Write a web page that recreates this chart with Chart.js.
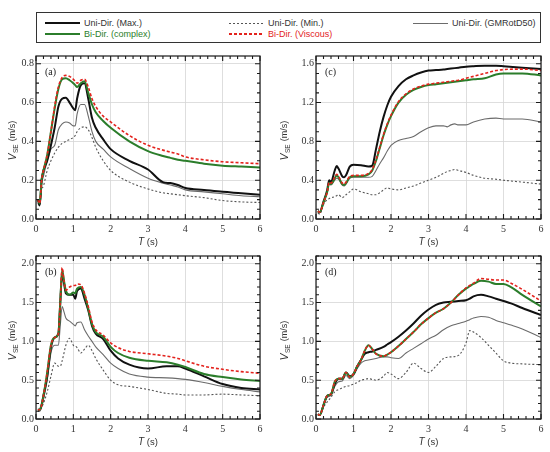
<!DOCTYPE html>
<html lang="en">
<head>
  <meta charset="UTF-8">
  <title>V_SE spectra</title>
  <script src="https://cdn.jsdelivr.net/npm/chart.js"></script>
  <style>
    html, body {
      margin: 0;
      padding: 0;
      background: #fff;
    }

    body {
      position: relative;
      width: 550px;
      height: 452px;
      overflow: hidden;
      font-family: "Liberation Sans", Arial, sans-serif;
    }

    canvas.panel {
      position: absolute;
    }

    #legend {
      position: absolute;
      left: 36px;
      top: 12px;
      width: 503px;
      height: 29px;
      border: 1px solid #333;
    }

    .item {
      position: absolute;
      font-size: 9px;
      line-height: 11px;
      white-space: nowrap;
    }

    .item .ln {
      display: inline-block;
      width: 35px;
      vertical-align: middle;
      margin-right: 4px;
      margin-top: -1px;
    }
  </style>
</head>

<body>
  <div id="legend"></div>
  <canvas class="panel" id="ca" width="275" height="200" style="left:0;top:48px"></canvas>
  <canvas class="panel" id="cc" width="275" height="200" style="left:275px;top:48px"></canvas>
  <canvas class="panel" id="cb" width="275" height="204" style="left:0;top:248px"></canvas>
  <canvas class="panel" id="cd" width="275" height="204" style="left:275px;top:248px"></canvas>
  <script>
    // series names, in drawing-style order
    const seriesNames = ['Uni-Dir. (Max.)', 'Uni-Dir. (Min.)', 'Uni-Dir. (GMRotD50)', 'Bi-Dir. (complex)', 'Bi-Dir. (Viscous)'];

    // tick labels
    const xTicks = [0, 1, 2, 3, 4, 5, 6];
    const yTicksA = [0, 0.2, 0.4, 0.6, 0.8];
    const yTicksB = [0, 0.5, 1.0, 1.5, 2.0];
    const yTicksC = [0, 0.4, 0.8, 1.2, 1.6];
    const yTicksD = [0, 0.5, 1.0, 1.5, 2.0];

    // (a) period T (s) and V_SE (m/s)
    const tA = [0.05, 0.1, 0.15, 0.2, 0.3, 0.4, 0.5, 0.6, 0.7, 0.8, 0.9, 1.0, 1.05, 1.1, 1.2, 1.3, 1.4, 1.5, 1.6, 1.8, 2.0, 2.5, 3.0, 3.4, 3.6, 3.8, 4.0, 4.5, 5.0, 5.5, 6.0];
    const maxA = [0.10, 0.07, 0.20, 0.25, 0.30, 0.38, 0.47, 0.58, 0.62, 0.625, 0.60, 0.57, 0.56, 0.62, 0.69, 0.70, 0.62, 0.52, 0.47, 0.41, 0.36, 0.30, 0.255, 0.19, 0.185, 0.175, 0.16, 0.15, 0.14, 0.133, 0.125];
    const minA = [0.08, 0.07, 0.15, 0.17, 0.25, 0.30, 0.34, 0.37, 0.39, 0.40, 0.41, 0.42, 0.43, 0.45, 0.47, 0.475, 0.46, 0.42, 0.37, 0.30, 0.25, 0.19, 0.155, 0.135, 0.13, 0.125, 0.12, 0.11, 0.095, 0.088, 0.085];
    const gmA = [0.08, 0.07, 0.18, 0.22, 0.30, 0.36, 0.38, 0.46, 0.49, 0.50, 0.495, 0.48, 0.48, 0.54, 0.59, 0.59, 0.53, 0.45, 0.40, 0.36, 0.32, 0.26, 0.21, 0.185, 0.175, 0.165, 0.15, 0.14, 0.13, 0.12, 0.115];
    const cxA = [0.10, 0.08, 0.20, 0.25, 0.33, 0.45, 0.57, 0.67, 0.72, 0.725, 0.715, 0.70, 0.69, 0.68, 0.70, 0.71, 0.65, 0.59, 0.55, 0.505, 0.47, 0.40, 0.35, 0.325, 0.315, 0.305, 0.30, 0.285, 0.275, 0.27, 0.265];
    const viA = [0.10, 0.08, 0.20, 0.25, 0.33, 0.45, 0.58, 0.68, 0.73, 0.74, 0.735, 0.72, 0.71, 0.70, 0.715, 0.72, 0.68, 0.62, 0.58, 0.53, 0.50, 0.43, 0.38, 0.355, 0.345, 0.335, 0.32, 0.305, 0.295, 0.29, 0.285];

    // (b)
    const tB = [0.05, 0.1, 0.15, 0.2, 0.3, 0.4, 0.5, 0.6, 0.65, 0.7, 0.75, 0.8, 0.9, 1.0, 1.05, 1.1, 1.2, 1.3, 1.4, 1.5, 1.6, 1.8, 2.0, 2.2, 2.5, 3.0, 3.5, 3.8, 4.0, 4.5, 5.0, 5.5, 6.0];
    const maxB = [0.12, 0.12, 0.18, 0.30, 0.55, 0.92, 1.05, 1.10, 1.50, 1.88, 1.75, 1.62, 1.60, 1.60, 1.55, 1.65, 1.68, 1.55, 1.40, 1.20, 1.10, 1.03, 0.88, 0.78, 0.70, 0.65, 0.68, 0.68, 0.65, 0.55, 0.45, 0.40, 0.38];
    const minB = [0.10, 0.10, 0.15, 0.20, 0.35, 0.55, 0.72, 0.68, 0.68, 0.75, 0.85, 0.95, 1.04, 0.95, 0.94, 0.92, 0.85, 0.90, 0.95, 0.88, 0.78, 0.63, 0.50, 0.44, 0.42, 0.38, 0.33, 0.32, 0.31, 0.31, 0.32, 0.31, 0.30];
    const gmB = [0.10, 0.10, 0.15, 0.25, 0.50, 0.85, 0.95, 0.95, 1.20, 1.45, 1.38, 1.30, 1.26, 1.22, 1.20, 1.24, 1.25, 1.15, 1.07, 1.00, 0.93, 0.83, 0.72, 0.65, 0.58, 0.54, 0.53, 0.52, 0.51, 0.47, 0.42, 0.38, 0.35];
    const cxB = [0.12, 0.12, 0.18, 0.30, 0.60, 0.95, 1.05, 1.10, 1.50, 1.92, 1.78, 1.65, 1.60, 1.63, 1.62, 1.68, 1.70, 1.60, 1.42, 1.22, 1.12, 1.06, 0.93, 0.85, 0.79, 0.75, 0.73, 0.70, 0.67, 0.58, 0.54, 0.51, 0.49];
    const viB = [0.12, 0.12, 0.18, 0.30, 0.60, 0.95, 1.05, 1.10, 1.50, 1.95, 1.78, 1.66, 1.70, 1.72, 1.72, 1.74, 1.73, 1.62, 1.45, 1.25, 1.15, 1.08, 0.98, 0.92, 0.87, 0.84, 0.81, 0.78, 0.75, 0.68, 0.64, 0.61, 0.59];

    // (c)
    const tC = [0.05, 0.1, 0.2, 0.3, 0.35, 0.4, 0.5, 0.55, 0.6, 0.7, 0.75, 0.8, 0.9, 1.0, 1.2, 1.4, 1.5, 1.6, 1.7, 1.8, 1.9, 2.0, 2.2, 2.4, 2.6, 2.8, 3.0, 3.2, 3.4, 3.5, 3.6, 3.7, 3.8, 4.0, 4.2, 4.5, 4.8, 5.0, 5.5, 6.0];
    const maxC = [0.08, 0.07, 0.18, 0.30, 0.40, 0.38, 0.50, 0.545, 0.52, 0.44, 0.43, 0.45, 0.54, 0.56, 0.555, 0.54, 0.55, 0.72, 0.90, 1.05, 1.17, 1.26, 1.37, 1.44, 1.48, 1.51, 1.53, 1.535, 1.54, 1.545, 1.55, 1.555, 1.56, 1.57, 1.575, 1.58, 1.58, 1.575, 1.56, 1.545];
    const minC = [0.06, 0.05, 0.15, 0.20, 0.21, 0.22, 0.23, 0.24, 0.25, 0.22, 0.23, 0.25, 0.28, 0.31, 0.28, 0.26, 0.25, 0.25, 0.27, 0.30, 0.32, 0.31, 0.30, 0.32, 0.34, 0.37, 0.40, 0.43, 0.47, 0.49, 0.50, 0.51, 0.50, 0.48, 0.45, 0.42, 0.41, 0.40, 0.38, 0.36];
    const gmC = [0.08, 0.07, 0.17, 0.28, 0.36, 0.35, 0.40, 0.42, 0.41, 0.35, 0.34, 0.36, 0.42, 0.43, 0.43, 0.43, 0.44, 0.50, 0.57, 0.63, 0.70, 0.76, 0.81, 0.83, 0.85, 0.90, 0.94, 0.96, 0.96, 0.95, 0.97, 0.98, 0.97, 0.97, 1.00, 1.03, 1.04, 1.03, 1.03, 1.00];
    const cxC = [0.08, 0.07, 0.17, 0.28, 0.37, 0.36, 0.42, 0.45, 0.43, 0.36, 0.35, 0.37, 0.43, 0.44, 0.44, 0.46, 0.50, 0.60, 0.73, 0.86, 0.97, 1.06, 1.20, 1.28, 1.33, 1.36, 1.38, 1.39, 1.40, 1.405, 1.41, 1.415, 1.42, 1.43, 1.44, 1.45, 1.49, 1.50, 1.50, 1.48];
    const viC = [0.08, 0.07, 0.17, 0.28, 0.38, 0.37, 0.43, 0.46, 0.44, 0.37, 0.36, 0.38, 0.44, 0.45, 0.45, 0.47, 0.51, 0.61, 0.74, 0.87, 0.98, 1.07, 1.21, 1.29, 1.34, 1.37, 1.39, 1.40, 1.41, 1.415, 1.42, 1.425, 1.43, 1.45, 1.47, 1.50, 1.53, 1.54, 1.545, 1.53];

    // (d)
    const tD = [0.05, 0.1, 0.2, 0.3, 0.4, 0.5, 0.6, 0.7, 0.8, 0.9, 1.0, 1.1, 1.2, 1.3, 1.4, 1.5, 1.6, 1.8, 1.9, 2.0, 2.2, 2.4, 2.6, 2.8, 3.0, 3.2, 3.4, 3.6, 3.8, 4.0, 4.1, 4.2, 4.4, 4.6, 4.8, 5.0, 5.2, 5.5, 6.0];
    const maxD = [0.06, 0.05, 0.18, 0.30, 0.32, 0.45, 0.52, 0.52, 0.60, 0.55, 0.58, 0.68, 0.76, 0.84, 0.86, 0.87, 0.89, 0.93, 0.96, 0.99, 1.06, 1.14, 1.23, 1.33, 1.41, 1.47, 1.50, 1.51, 1.52, 1.53, 1.55, 1.58, 1.60, 1.58, 1.55, 1.52, 1.49, 1.43, 1.34];
    const minD = [0.06, 0.05, 0.15, 0.22, 0.28, 0.35, 0.38, 0.40, 0.42, 0.43, 0.45, 0.47, 0.50, 0.51, 0.52, 0.51, 0.50, 0.55, 0.60, 0.58, 0.52, 0.60, 0.72, 0.65, 0.60, 0.68, 0.78, 0.80, 0.82, 0.98, 1.14, 1.12, 1.05, 0.95, 0.85, 0.75, 0.72, 0.71, 0.70];
    const gmD = [0.06, 0.05, 0.17, 0.28, 0.30, 0.42, 0.48, 0.49, 0.56, 0.52, 0.56, 0.65, 0.72, 0.75, 0.76, 0.77, 0.78, 0.80, 0.80, 0.79, 0.78, 0.85, 0.91, 0.97, 1.03, 1.08, 1.15, 1.20, 1.23, 1.26, 1.28, 1.30, 1.32, 1.31, 1.27, 1.24, 1.21, 1.16, 1.05];
    const cxD = [0.06, 0.05, 0.18, 0.30, 0.32, 0.48, 0.52, 0.52, 0.60, 0.54, 0.58, 0.68, 0.76, 0.88, 0.95, 0.90, 0.84, 0.81, 0.83, 0.86, 0.94, 1.03, 1.12, 1.22, 1.30, 1.37, 1.42, 1.50, 1.60, 1.68, 1.71, 1.74, 1.78, 1.77, 1.74, 1.74, 1.70, 1.60, 1.45];
    const viD = [0.06, 0.05, 0.18, 0.30, 0.32, 0.48, 0.52, 0.52, 0.60, 0.54, 0.58, 0.68, 0.76, 0.88, 0.95, 0.90, 0.84, 0.81, 0.83, 0.86, 0.94, 1.03, 1.12, 1.22, 1.30, 1.37, 1.42, 1.50, 1.60, 1.69, 1.72, 1.75, 1.81, 1.80, 1.79, 1.79, 1.75, 1.67, 1.52];

    const SERIF = '"Liberation Serif", "Times New Roman", serif';
    const SANS = '"Liberation Sans", Arial, sans-serif';

    // line look, same order as seriesNames (lower order = drawn on top)
    const styles = [
      { color: '#111111', width: 2.0, dash: [], order: 2, text: '#333' },
      { color: '#555555', width: 1.1, dash: [2, 2], order: 4, text: '#333' },
      { color: '#6b6b6b', width: 1.1, dash: [], order: 3, text: '#333' },
      { color: '#2b7d2b', width: 2.0, dash: [], order: 1, text: '#2b7d2b' },
      { color: '#e3221c', width: 1.6, dash: [3, 2], order: 0, text: '#e3221c' },
    ];

    // legend (html)
    const legendSlots = [[8, 5], [192, 5], [376, 5], [8, 16], [192, 16]];
    const legendBox = document.getElementById('legend');
    seriesNames.forEach((name, k) => {
      const s = styles[k];
      const el = document.createElement('div');
      el.className = 'item';
      el.style.left = legendSlots[k][0] + 'px';
      el.style.top = legendSlots[k][1] + 'px';
      el.style.color = s.text;
      const h = Math.max(1, Math.round(s.width));
      const bg = s.dash.length
        ? `repeating-linear-gradient(90deg, ${s.color} 0 ${s.dash[0]}px, transparent ${s.dash[0]}px ${s.dash[0] + s.dash[1]}px)`
        : s.color;
      el.innerHTML = `<span class="ln" style="height:${h}px;background:${bg}"></span>${name}`;
      legendBox.appendChild(el);
    });

    const panels = [
      { id: 'ca', tag: '(a)', T: tA, series: [maxA, minA, gmA, cxA, viA], yTicks: yTicksA, yMax: 0.84, yMinor: 0.05, axisW: 36, padTop: 7, padRight: 15, xAxisH: 29, yTitleX: 13 },
      { id: 'cb', tag: '(b)', T: tB, series: [maxB, minB, gmB, cxB, viB], yTicks: yTicksB, yMax: 2.1, yMinor: 0.1, axisW: 36, padTop: 6, padRight: 15, xAxisH: 33, yTitleX: 13 },
      { id: 'cc', tag: '(c)', T: tC, series: [maxC, minC, gmC, cxC, viC], yTicks: yTicksC, yMax: 1.68, yMinor: 0.1, axisW: 41, padTop: 7, padRight: 9, xAxisH: 29, yTitleX: 10 },
      { id: 'cd', tag: '(d)', T: tD, series: [maxD, minD, gmD, cxD, viD], yTicks: yTicksD, yMax: 2.1, yMinor: 0.1, axisW: 41, padTop: 6, padRight: 9, xAxisH: 33, yTitleX: 10 },
    ];

    function drawYTitle(ctx, x, y) {
      ctx.save();
      ctx.translate(x, y);
      ctx.rotate(-Math.PI / 2);
      ctx.fillStyle = '#333';
      ctx.textBaseline = 'middle';
      ctx.textAlign = 'left';
      const f1 = 'italic 10px ' + SANS, f2 = '6.5px ' + SANS, f3 = '9px ' + SANS;
      ctx.font = f1; const w1 = ctx.measureText('V').width;
      ctx.font = f2; const w2 = ctx.measureText('SE').width;
      ctx.font = f3; const w3 = ctx.measureText(' (m/s)').width;
      const x0 = -(w1 + w2 + w3 + 1) / 2;
      ctx.font = f1; ctx.fillText('V', x0, 0);
      ctx.font = f2; ctx.fillText('SE', x0 + w1 + 0.5, 3);
      ctx.font = f3; ctx.fillText(' (m/s)', x0 + w1 + w2 + 1, 0);
      ctx.restore();
    }

    function drawXTitle(ctx, x, y) {
      ctx.save();
      ctx.fillStyle = '#333';
      ctx.textBaseline = 'middle';
      ctx.textAlign = 'left';
      const f1 = 'italic 10px ' + SANS, f2 = '9.5px ' + SANS;
      ctx.font = f1; const w1 = ctx.measureText('T').width;
      ctx.font = f2; const w2 = ctx.measureText(' (s)').width;
      const x0 = x - (w1 + w2) / 2;
      ctx.font = f1; ctx.fillText('T', x0, y);
      ctx.font = f2; ctx.fillText(' (s)', x0 + w1, y);
      ctx.restore();
    }

    function makeChart(p) {
      const datasets = p.series.map((vals, k) => ({
        label: seriesNames[k],
        data: p.T.map((t, i) => ({ x: t, y: vals[i] })),
        borderColor: styles[k].color,
        borderWidth: styles[k].width,
        borderDash: styles[k].dash,
        order: styles[k].order,
        pointRadius: 0,
        fill: false,
        cubicInterpolationMode: 'monotone',
      }));

      // box, inward ticks, panel tag and axis titles
      const frame = {
        id: 'frame',
        afterDraw(chart) {
          const { ctx, chartArea: a, scales: { x, y } } = chart;
          ctx.save();
          ctx.strokeStyle = '#1a1a1a';
          ctx.lineWidth = 1.1;
          ctx.beginPath();
          for (let i = 0; i <= 30; i++) {
            const px = x.getPixelForValue(i * 0.2);
            const len = i % 5 === 0 ? 5 : 3;
            ctx.moveTo(px, a.bottom); ctx.lineTo(px, a.bottom - len);
            ctx.moveTo(px, a.top); ctx.lineTo(px, a.top + len);
          }
          for (let i = 0; i * p.yMinor <= p.yMax + 1e-9; i++) {
            const v = i * p.yMinor;
            const major = p.yTicks.some(t => Math.abs(t - v) < 1e-6);
            const py = y.getPixelForValue(v);
            const len = major ? 5 : 3;
            ctx.moveTo(a.left, py); ctx.lineTo(a.left + len, py);
            ctx.moveTo(a.right, py); ctx.lineTo(a.right - len, py);
          }
          ctx.stroke();
          ctx.lineWidth = 1.2;
          ctx.strokeRect(a.left, a.top, a.right - a.left, a.bottom - a.top);

          ctx.fillStyle = '#222';
          ctx.font = '10px ' + SERIF;
          ctx.textBaseline = 'middle';
          ctx.fillText(p.tag, a.left + 9, a.top + 16);
          ctx.restore();

          drawYTitle(ctx, p.yTitleX, (a.top + a.bottom) / 2 + 3);
          drawXTitle(ctx, (a.left + a.right) / 2, a.bottom + 23);
        }
      };

      new Chart(document.getElementById(p.id), {
        type: 'line',
        data: { datasets },
        options: {
          responsive: false,
          animation: false,
          layout: { padding: { top: p.padTop, right: p.padRight, left: 0, bottom: 0 } },
          plugins: { legend: { display: false }, tooltip: { enabled: false } },
          scales: {
            x: {
              type: 'linear',
              min: 0,
              max: 6,
              afterBuildTicks: s => { s.ticks = xTicks.map(v => ({ value: v })); },
              afterFit: s => { s.height = p.xAxisH; },
              grid: { color: '#d6d6d6', lineWidth: 0.8, drawTicks: false },
              border: { display: false },
              ticks: { padding: 4, color: '#333', font: { family: SERIF, size: 10 }, callback: v => String(v) }
            },
            y: {
              type: 'linear',
              min: 0,
              max: p.yMax,
              afterBuildTicks: s => { s.ticks = p.yTicks.map(v => ({ value: v })); },
              afterFit: s => { s.width = p.axisW; },
              grid: { color: '#d6d6d6', lineWidth: 0.8, drawTicks: false },
              border: { display: false },
              ticks: { padding: 2, color: '#333', font: { family: SERIF, size: 10 }, callback: v => v.toFixed(1) }
            }
          }
        },
        plugins: [frame]
      });
    }

    panels.forEach(makeChart);
  </script>
</body>

</html>
